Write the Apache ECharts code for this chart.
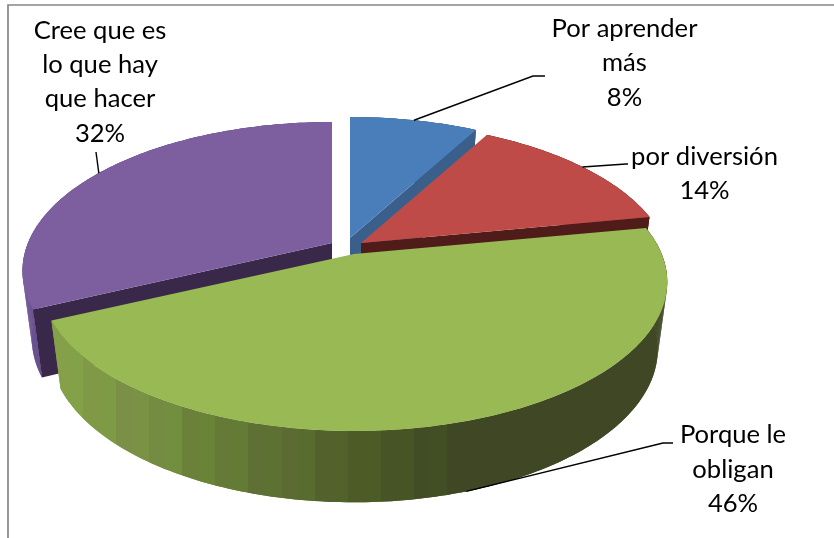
<!DOCTYPE html>
<html>
<head>
<meta charset="utf-8">
<style>html,body{margin:0;padding:0;background:#fff}#c{width:834px;height:538px}</style>
<script src="https://cdn.jsdelivr.net/npm/echarts@6/dist/echarts.min.js"></script>
</head>
<body>
<div id="c"></div>
<script>
// Data
var categories = ['Por aprender\nmás', 'por diversión', 'Porque le\nobligan', 'Cree que es\nlo que hay\nque hacer'];
var values = [8, 14, 46, 32];

// Styles
var topColors  = ['#4a7ebb', '#be4b48', '#98b954', '#7d5fa0'];
var faceColors = ['#3a5f8b', '#4f1c1a', '#3d4723', '#39284a'];
var wallColors = ['#3a5f8b', '#7a2f2d', '#3f4725', '#6b5090'];
var greenShades = ['#86a04a', '#7f9946', '#7b9046', '#748c41', '#6b8139', '#667a37', '#5f7034', '#5b6b31', '#53622c', '#4d5b28', '#485426', '#434d25', '#3f4725'];

// Layout (projection of the pie plane, explosion offset of each slice, label places)
var A = 304, B = 143.7, K = 0.188;
var SX = 0.97, SY = 1.03, DEPTH = 66;
var apexes = [[350, 238], [361, 243], [354, 254], [332, 243]];
var widen = [1, 1, 1.012, 1];
var drawRank = [1, 2, 3, 0];
var labelPlaces = [[624.5, 63], [704.5, 173.5], [733, 469.5], [100, 82]];
var leaderTurns = [[[533, 76], [545, 76]], [[626, 164], [628, 164]], [[663, 443], [673, 443]], [[96, 152]]];
var FONT = '25.6px Lato, Carlito, "Open Sans", sans-serif';
var WALL_X0 = 50, WALL_X1 = 480;

var total = values.reduce(function (a, b) { return a + b; }, 0);
function startAngle(i) {
  var s = 0;
  for (var k = 0; k < i; k++) s += values[k];
  return s / total * 360;
}
function project(i, deg, lower) {
  var ap = apexes[i];
  var r = deg * Math.PI / 180, u = Math.sin(r), v = -Math.cos(r), w = 1 - K * v;
  var x = A * widen[i] * u / w, y = B * v / w;
  return lower ? [ap[0] + x * SX, ap[1] + DEPTH + y * SY] : [ap[0] + x, ap[1] + y];
}
// Green wall: stepped horizontal shading, light at the far left, flat dark from the front onwards
function greenWallFill() {
  var stops = [], n = greenShades.length * 2;
  for (var k = 0; k < n; k++) {
    var s = greenShades[Math.min(greenShades.length - 1, Math.floor(k / 2))];
    var c = echarts.color.parse(s);
    if (k % 2 && k < n - 2) { c = [Math.round(c[0] * 0.98), Math.round(c[1] * 1.012), Math.round(c[2] * 0.97), 1]; }
    var col = 'rgb(' + c[0] + ',' + c[1] + ',' + c[2] + ')';
    stops.push({ offset: k / n, color: col });
    stops.push({ offset: (k + 1) / n, color: col });
  }
  return { type: 'linear', x: WALL_X0, y: 0, x2: WALL_X1, y2: 0, global: true, colorStops: stops };
}

function renderSlice(params, api) {
  var i = api.value(1), val = api.value(0);
  var a0 = startAngle(i), a1 = a0 + val / total * 360;
  var ap = apexes[i], kids = [], z = drawRank[i] * 1000;
  function poly(pts, fill) {
    kids.push({
      type: 'polygon', z2: z++, shape: { points: pts },
      style: { fill: fill }
    });
  }
  var apLow = [ap[0], ap[1] + DEPTH];
  var wallFill = i === 2 ? greenWallFill() : wallColors[i];
  // outer wall: quads first (they fill out the side silhouettes), then the strip hides their seams
  var upper = [], lowerArc = [];
  for (var d = a0; d < a1; d += 1) {
    var e = Math.min(a1, d + 1);
    poly([project(i, d), project(i, e), project(i, e, true), project(i, d, true)], wallFill);
    upper.push(project(i, d)); lowerArc.push(project(i, d, true));
  }
  upper.push(project(i, a1)); lowerArc.push(project(i, a1, true));
  poly(upper.concat(lowerArc.reverse()), wallFill);
  // cut faces that turn towards the viewer
  if (a1 < 180) poly([ap, project(i, a1), project(i, a1, true), apLow], faceColors[i]);
  if (a0 > 180) poly([ap, project(i, a0), project(i, a0, true), apLow], faceColors[i]);
  // top
  var pts = [ap];
  for (var q = a0; q < a1; q += 1) pts.push(project(i, q));
  pts.push(project(i, a1));
  poly(pts, topColors[i]);

  // leader and label
  var mid = (a0 + a1) / 2;
  var anchor = project(i, mid, i === 2);
  kids.push({
    type: 'polyline', z2: 9000, shape: { points: [anchor].concat(leaderTurns[i]) },
    style: { stroke: '#000', lineWidth: 1.4, fill: 'none' }
  });
  kids.push({
    type: 'text', z2: 9001,
    style: {
      text: categories[i] + '\n' + Math.round(val / total * 100) + '%',
      x: labelPlaces[i][0], y: labelPlaces[i][1],
      align: 'center', verticalAlign: 'middle',
      font: FONT, lineHeight: 34.3, fill: '#000'
    }
  });
  return { type: 'group', children: kids };
}

var chart = echarts.init(document.getElementById('c'), null, { renderer: 'canvas' });
chart.setOption({
  animation: false,
  backgroundColor: '#ffffff',
  graphic: [
    { type: 'polyline', silent: true, shape: { points: [[8, 538], [8, 5], [834, 5]] },
      style: { stroke: '#868686', lineWidth: 1.7, fill: 'none' } }
  ],
  series: [{
    type: 'custom',
    coordinateSystem: 'none',
    silent: true,
    renderItem: renderSlice,
    data: values.map(function (v, i) { return [v, i]; })
  }]
});
</script>
</body>
</html>
